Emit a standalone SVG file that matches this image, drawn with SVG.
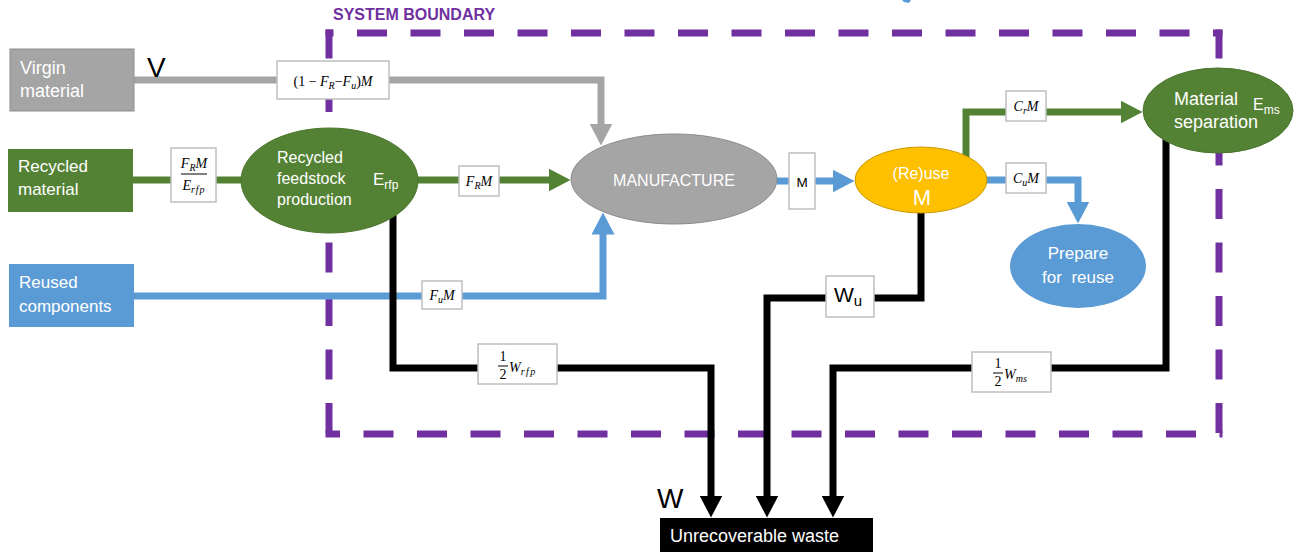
<svg xmlns="http://www.w3.org/2000/svg" width="1297" height="552" viewBox="0 0 1297 552">
<defs>
<style>
.bd{stroke:#7030a0;stroke-width:7;fill:none;stroke-dasharray:30 23.5}
.fl{fill:none;stroke-width:7;stroke-linejoin:miter}
.g{stroke:#a5a5a5}.gr{stroke:#548235}.b{stroke:#5b9bd5}.k{stroke:#000}
.lb{fill:#fff;stroke:#bfbfbf;stroke-width:1.5}
.mt{font-family:"Liberation Serif","Times New Roman",serif;font-size:14px;fill:#000}
.i{font-style:italic}
.s{font-size:10px}
.nt{font-family:"Liberation Sans",Arial,sans-serif;fill:#fff}
.bt{font-family:"Liberation Sans",Arial,sans-serif;fill:#000}
</style>
<marker id="ah-gray" viewBox="0 0 22 23" markerWidth="22" markerHeight="23" refX="0.5" refY="11.5" orient="auto" markerUnits="userSpaceOnUse"><path d="M0,0 L22,11.5 L0,23 Z" fill="#a5a5a5"/></marker>
<marker id="ah-green" viewBox="0 0 22 23" markerWidth="22" markerHeight="23" refX="0.5" refY="11.5" orient="auto" markerUnits="userSpaceOnUse"><path d="M0,0 L22,11.5 L0,23 Z" fill="#548235"/></marker>
<marker id="ah-blue" viewBox="0 0 22 23" markerWidth="22" markerHeight="23" refX="0.5" refY="11.5" orient="auto" markerUnits="userSpaceOnUse"><path d="M0,0 L22,11.5 L0,23 Z" fill="#5b9bd5"/></marker>
<marker id="ah-black" viewBox="0 0 22 23" markerWidth="22" markerHeight="23" refX="0.5" refY="11.5" orient="auto" markerUnits="userSpaceOnUse"><path d="M0,0 L22,11.5 L0,23 Z" fill="#000"/></marker>
</defs>
<rect width="1297" height="552" fill="#fff"/>
<path d="M902,0 H911 L909,3 L904,2 Z" fill="#5b9bd5"/>

<g id="system-boundary">
<line class="bd" x1="325.5" y1="33" x2="1222.5" y2="33" stroke-dashoffset="22"/>
<line class="bd" x1="1219" y1="29.5" x2="1219" y2="437.5" stroke-dashoffset="1"/>
<line class="bd" x1="329" y1="29.5" x2="329" y2="437.5" stroke-dashoffset="1"/>
<line class="bd" x1="325.5" y1="434" x2="1222.5" y2="434" stroke-dashoffset="15.5"/>
<text x="333" y="20" font-family="Liberation Sans, Arial, sans-serif" font-weight="bold" font-size="16" fill="#7030a0">SYSTEM BOUNDARY</text>
</g>

<g id="connectors">
<path class="fl g" d="M134,80 H601 V124" marker-end="url(#ah-gray)"/>
<path class="fl gr" d="M133,180 H245"/>
<path class="fl gr" d="M415,180 H549" marker-end="url(#ah-green)"/>
<path class="fl b" d="M777,181 H833" marker-end="url(#ah-blue)"/>
<path class="fl gr" d="M966,160 V112 H1121" marker-end="url(#ah-green)"/>
<path class="fl b" d="M984,180 H1078 V202" marker-end="url(#ah-blue)"/>
<path class="fl b" d="M134,296 H603 V234" marker-end="url(#ah-blue)"/>
<path class="fl k" d="M393,210 V368 H711 V496" marker-end="url(#ah-black)"/>
<path class="fl k" d="M921,205 V298 H767 V496" marker-end="url(#ah-black)"/>
<path class="fl k" d="M1166,135 V368 H833 V496" marker-end="url(#ah-black)"/>
</g>

<g id="virgin-material">
<rect x="10" y="49" width="124" height="62" fill="#a5a5a5" stroke="#8f8f8f" stroke-width="1"/>
<text class="nt" font-size="18"><tspan x="20" y="74">Virgin</tspan><tspan x="20" y="97">material</tspan></text>
</g>
<g id="label-v"><text class="bt" x="147" y="77" font-size="28">V</text></g>

<g id="recycled-material">
<rect x="8" y="149" width="125" height="63" fill="#548235"/>
<text class="nt" font-size="17"><tspan x="18" y="172">Recycled</tspan><tspan x="18" y="195">material</tspan></text>
</g>

<g id="reused-components">
<rect x="9" y="264" width="125" height="63" fill="#5b9bd5"/>
<text class="nt" font-size="17"><tspan x="19" y="288">Reused</tspan><tspan x="19" y="312">components</tspan></text>
</g>

<g id="recycled-feedstock-production">
<ellipse cx="329.5" cy="180.5" rx="88.5" ry="52.5" fill="#548235" stroke="#4a752d" stroke-width="1"/>
<text class="nt" font-size="16"><tspan x="277" y="163">Recycled</tspan><tspan x="277" y="184">feedstock</tspan><tspan x="277" y="205">production</tspan></text>
<text class="nt" x="373" y="185" font-size="17">E<tspan font-size="12" dy="4">rfp</tspan></text>
</g>

<g id="manufacture">
<ellipse cx="674" cy="179" rx="103" ry="45" fill="#a5a5a5" stroke="#8c8c8c" stroke-width="1"/>
<text class="nt" x="674" y="186" font-size="16" text-anchor="middle">MANUFACTURE</text>
</g>

<g id="reuse">
<ellipse cx="921" cy="180" rx="66" ry="33" fill="#ffc000" stroke="#c99a00" stroke-width="1"/>
<text class="nt" x="921" y="179" font-size="16" text-anchor="middle">(Re)use</text>
<text class="nt" x="922" y="205" font-size="22" text-anchor="middle">M</text>
</g>

<g id="material-separation">
<ellipse cx="1218" cy="110.5" rx="75" ry="42.5" fill="#548235" stroke="#4a752d" stroke-width="1"/>
<text class="nt" font-size="18"><tspan x="1174" y="105">Material</tspan><tspan x="1174" y="128">separation</tspan></text>
<text class="nt" x="1253" y="110" font-size="16">E<tspan font-size="12" dy="4">ms</tspan></text>
</g>

<g id="prepare-for-reuse">
<ellipse cx="1078" cy="266" rx="68" ry="42" fill="#5b9bd5"/>
<text class="nt" x="1078" y="259" font-size="17" text-anchor="middle">Prepare</text>
<text class="nt" x="1078" y="283" font-size="17" text-anchor="middle" xml:space="preserve">for  reuse</text>
</g>

<g id="unrecoverable-waste">
<rect x="660" y="518" width="213" height="40" fill="#000"/>
<text class="nt" x="670" y="542" font-size="18">Unrecoverable waste</text>
</g>
<g id="label-w"><text class="bt" x="657" y="508" font-size="28">W</text></g>

<g id="connector-labels">
<rect class="lb" x="277" y="61" width="112" height="38"/>
<text class="mt" x="333" y="86" font-size="15" text-anchor="middle">(1 − <tspan class="i">F</tspan><tspan class="i s" dy="3">R</tspan><tspan dy="-3">−</tspan><tspan class="i">F</tspan><tspan class="i s" dy="3">u</tspan><tspan dy="-3">)</tspan><tspan class="i">M</tspan></text>

<rect class="lb" x="171" y="148" width="45" height="54"/>
<text class="mt" x="194" y="168" text-anchor="middle"><tspan class="i">F</tspan><tspan class="i s" dy="3">R</tspan><tspan class="i" dy="-3">M</tspan></text>
<line x1="181" y1="174" x2="207" y2="174" stroke="#000" stroke-width="1"/>
<text class="mt" x="194" y="190" text-anchor="middle"><tspan class="i">E</tspan><tspan class="i s" dy="3" letter-spacing="1">rfp</tspan></text>

<rect class="lb" x="459" y="166" width="40" height="30"/>
<text class="mt" x="479" y="186" text-anchor="middle"><tspan class="i">F</tspan><tspan class="i s" dy="3">R</tspan><tspan class="i" dy="-3">M</tspan></text>

<rect class="lb" x="789" y="153" width="26" height="56"/>
<text class="bt" x="802" y="187" font-size="13.5" text-anchor="middle">M</text>

<rect class="lb" x="1006" y="91" width="40" height="30"/>
<text class="mt" x="1026" y="111" text-anchor="middle"><tspan class="i">C</tspan><tspan class="i s" dy="3">r</tspan><tspan class="i" dy="-3">M</tspan></text>

<rect class="lb" x="1006" y="163" width="40" height="30"/>
<text class="mt" x="1026" y="183" text-anchor="middle"><tspan class="i">C</tspan><tspan class="i s" dy="3">u</tspan><tspan class="i" dy="-3">M</tspan></text>

<rect class="lb" x="422" y="281" width="40" height="28"/>
<text class="mt" x="442" y="300" text-anchor="middle"><tspan class="i">F</tspan><tspan class="i s" dy="3">u</tspan><tspan class="i" dy="-3">M</tspan></text>

<rect class="lb" x="478" y="344" width="79" height="40"/>
<text class="mt" x="503" y="361" font-size="13" text-anchor="middle">1</text>
<line x1="498" y1="366" x2="508" y2="366" stroke="#000" stroke-width="1"/>
<text class="mt" x="503" y="379" font-size="13" text-anchor="middle">2</text>
<text class="mt" x="509" y="372" font-size="15"><tspan class="i">W</tspan><tspan class="i s" dy="3" letter-spacing="1.5">rfp</tspan></text>

<rect class="lb" x="972" y="352" width="79" height="40"/>
<text class="mt" x="998" y="368" font-size="13" text-anchor="middle">1</text>
<line x1="993" y1="373" x2="1003" y2="373" stroke="#000" stroke-width="1"/>
<text class="mt" x="998" y="386" font-size="13" text-anchor="middle">2</text>
<text class="mt" x="1004" y="379" font-size="15"><tspan class="i">W</tspan><tspan class="i s" dy="3">ms</tspan></text>

<rect class="lb" x="826" y="276" width="48" height="41"/>
<text class="bt" x="834" y="302" font-size="21">W<tspan font-size="15" dy="4">u</tspan></text>
</g>
</svg>
